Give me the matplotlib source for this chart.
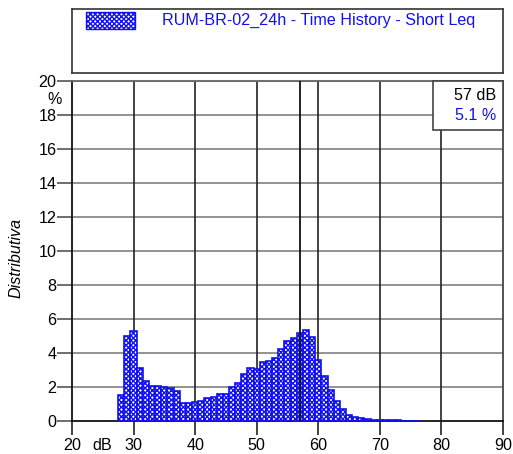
import numpy as np
import matplotlib
matplotlib.use('Agg')
import matplotlib.pyplot as plt
from matplotlib.patches import Rectangle

plt.rcParams['font.family'] = ['Liberation Sans', 'DejaVu Sans']
plt.rcParams['hatch.linewidth'] = 1.0

# distribuzione dei livelli (classi da 1 dB)
levels = list(range(28, 77))
percent = [1.55, 4.98, 5.31, 3.10, 2.33, 2.08, 2.08, 2.02, 1.94, 1.78,
           1.06, 1.06, 1.10, 1.16, 1.33, 1.39, 1.57, 1.57, 1.98, 2.22,
           2.74, 3.10, 3.06, 3.45, 3.55, 3.70, 4.24, 4.69, 4.88, 5.16,
           5.37, 4.92, 3.61, 2.67, 1.84, 1.16, 0.68, 0.37, 0.23, 0.15,
           0.10, 0.07, 0.05, 0.04, 0.03, 0.03, 0.02, 0.02, 0.02]
series_name = 'RUM-BR-02_24h - Time History - Short Leq'
cursor_db = 57
cursor_pct = '5.1 %'
xticks = [20, 30, 40, 50, 60, 70, 80, 90]
yticks = list(range(0, 21, 2))
FS = 11.6

W, H = 513, 454
fig = plt.figure(figsize=(W / 100, H / 100), dpi=100)
ax = fig.add_axes([72 / W, (H - 421) / H, 431 / W, 340 / H])

ax.bar(levels, percent, width=1.0, color='white', edgecolor='#1010f0',
       hatch='xxxxxxx', linewidth=1.2, zorder=3)

ax.set_xlim(20, 90)
ax.set_ylim(0, 20)
ax.set_xticks(xticks)
ax.set_yticks(yticks)
ax.tick_params(axis='y', direction='out', length=11, width=1.2, pad=0,
               labelsize=FS, color='#555555')
ax.tick_params(axis='x', direction='out', length=10, width=1.2, pad=2,
               labelsize=FS, color='#222222')

# griglia
for y in yticks[1:]:
    ax.axhline(y, color='#8a8a8a', lw=1.3, zorder=1)
for x in xticks[1:-1]:
    ax.axvline(x, color='#222222', lw=1.2, zorder=1)
ax.axvline(cursor_db, color='#111111', lw=1.3, zorder=4)

for s in ax.spines.values():
    s.set_linewidth(1.3)
    s.set_color('#111111')
ax.spines['top'].set_color('#666666')
ax.spines['right'].set_color('#444444')

fig.text(16 / W, 1 - 258 / H, 'Distributiva', fontsize=FS, style='italic',
         rotation=90, ha='center', va='center')
fig.text(55 / W, 1 - 100 / H, '%', fontsize=FS, ha='center', va='center')
fig.text(102 / W, 1 - 446 / H, 'dB', fontsize=FS, ha='center', va='center')

# box cursore
bx = (433 - 72) / 431
by = (421 - 130) / 340
ax.add_patch(Rectangle((bx, by), 1 - bx, 1 - by, transform=ax.transAxes,
                       facecolor='white', edgecolor='#444444', lw=1.2,
                       zorder=6, clip_on=False))
ax.text(0.985, 1 - (96 - 81) / 340, '%d dB' % cursor_db, transform=ax.transAxes,
        ha='right', va='center', fontsize=FS, zorder=7)
ax.text(0.985, 1 - (116 - 81) / 340, cursor_pct, transform=ax.transAxes,
        ha='right', va='center', fontsize=FS, color='#1010f0', zorder=7)

# legenda
lg = fig.add_axes([72 / W, (H - 73) / H, 431 / W, 64 / H])
lg.set_xticks([])
lg.set_yticks([])
lg.set_xlim(0, 431)
lg.set_ylim(64, 0)
for s in lg.spines.values():
    s.set_linewidth(1.2)
    s.set_color('#333333')
lg.add_patch(Rectangle((14, 3), 49, 17, facecolor='white', edgecolor='#1010f0',
                       hatch='xxxxxxx', lw=1.0))
lg.text(90, 11.5, series_name, fontsize=FS, color='#1010f0', va='center')

fig.savefig('out.png', dpi=100)
